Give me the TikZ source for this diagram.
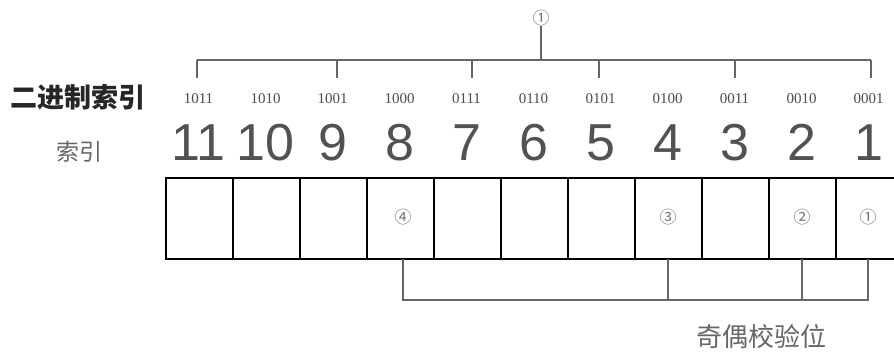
\documentclass[tikz,border=0pt]{standalone}
\usepackage{fontspec}
\setmainfont{Liberation Sans}
\newfontfamily\cjk{Noto Sans CJK SC}
\newfontfamily\binf{Liberation Serif}
\newfontfamily\numf{Liberation Sans}
\begin{document}
\begin{tikzpicture}[x=1pt,y=-1pt,
  cell/.style={draw=black,line width=2.4pt,minimum width=67pt,minimum height=81pt,inner sep=0pt,anchor=north west},
  bigno/.style={font=\numf\fontsize{52}{52}\selectfont,text=black!68,inner sep=0pt,anchor=base},
  binlab/.style={font=\binf\fontsize{15}{15}\selectfont,text=black!70,inner sep=0pt,anchor=base},
  circno/.style={font=\cjk\fontsize{17}{17}\selectfont,text=black!55,inner sep=0pt},
  brk/.style={draw=black!60,line width=1.3pt},
  cnlab/.style={font=\cjk\fontsize{26}{26}\selectfont,inner sep=0pt}]
\useasboundingbox (0,0) rectangle (894,360);
% cells, index 11 .. 1 from left to right
\foreach \i [count=\k from 0] in {11,10,9,8,7,6,5,4,3,2,1}{
  \node[cell] (c\i) at ({165+67*\k},177) {};
  \node[bigno] (n\i) at ({198.5+67*\k},160) {\i};
}
% binary labels
\foreach \b [count=\k from 0] in {1011,1010,1001,1000,0111,0110,0101,0100,0011,0010,0001}{
  \node[binlab] (b\k) at ({198.5+67*\k},103) {\b};
}
% top bracket
\coordinate (tl) at (197,60);
\coordinate (tr) at (871,60);
\coordinate (tm) at (541,60);
\node[circno] (top1) at (541,18) {①};
\draw[brk] (top1.south) -- (tm);
\draw[brk] (tl) -- (tr);
\foreach \x in {197,337,472,599,735,871}{
  \draw[brk] (\x,60) -- (\x,78);
}
% parity markers
\node[circno] (p4) at (403,217) {④};
\node[circno] (p3) at (668,217) {③};
\node[circno] (p2) at (802,217) {②};
\node[circno] (p1) at (868,217) {①};
% bottom bracket
\coordinate (q4) at (403,300);
\coordinate (q3) at (668,300);
\coordinate (q2) at (802,300);
\coordinate (q1) at (868,300);
\draw[brk] (403,259) -- (q4) -- (q1) -- (868,259);
\draw[brk] (668,259) -- (q3);
\draw[brk] (802,259) -- (q2);
% text labels
\node[cnlab,font=\cjk\bfseries\fontsize{27}{27}\selectfont,text=black!85] (bin) at (78,97) {二进制索引};
\node[cnlab,font=\cjk\fontsize{23}{23}\selectfont,text=black!60] (idx) at (79,152) {索引};
\node[cnlab,text=black!60] (par) at (761,337) {奇偶校验位};
\end{tikzpicture}
\end{document}
